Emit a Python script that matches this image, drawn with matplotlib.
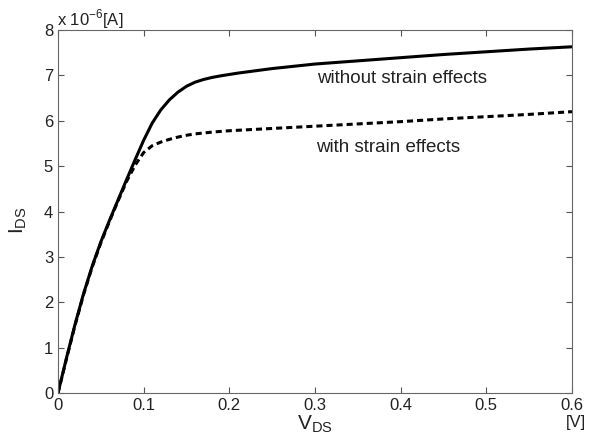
import numpy as np
import matplotlib.pyplot as plt

plt.rcParams['font.family'] = ['Liberation Sans', 'DejaVu Sans']
plt.rcParams['mathtext.fontset'] = 'custom'
plt.rcParams['mathtext.rm'] = 'Liberation Sans'

# V_DS [V] and I_DS [x 1e-6 A]
vds_no_strain = [0, 0.01, 0.02, 0.03, 0.04, 0.05, 0.06, 0.07, 0.08, 0.09, 0.1,
                 0.11, 0.12, 0.13, 0.14, 0.15, 0.16, 0.17, 0.18, 0.19, 0.2, 0.21,
                 0.25, 0.3, 0.35, 0.4, 0.45, 0.5, 0.55, 0.6]
ids_no_strain = [0, 0.78, 1.52, 2.20, 2.80, 3.33, 3.80, 4.25, 4.70, 5.14, 5.57,
                 5.95, 6.24, 6.46, 6.63, 6.76, 6.85, 6.91, 6.955, 6.99, 7.02, 7.05,
                 7.15, 7.25, 7.32, 7.39, 7.46, 7.52, 7.58, 7.63]

vds_strain = [0, 0.01, 0.02, 0.03, 0.04, 0.05, 0.06, 0.07, 0.08, 0.09, 0.1,
              0.11, 0.12, 0.13, 0.14, 0.15, 0.16, 0.17, 0.18, 0.2, 0.25, 0.3,
              0.35, 0.4, 0.45, 0.5, 0.55, 0.6]
ids_strain = [0, 0.76, 1.50, 2.18, 2.78, 3.31, 3.78, 4.23, 4.66, 5.02, 5.30,
              5.45, 5.53, 5.59, 5.64, 5.68, 5.71, 5.73, 5.75, 5.78, 5.83, 5.88,
              5.93, 5.98, 6.04, 6.09, 6.14, 6.2]

xticks = [0, 0.1, 0.2, 0.3, 0.4, 0.5, 0.6]
xticklabels = ['0', '0.1', '0.2', '0.3', '0.4', '0.5', '0.6']
yticks = [0, 1, 2, 3, 4, 5, 6, 7, 8]

fig = plt.figure(figsize=(6.08, 4.41), dpi=100)
ax = fig.add_axes([58 / 608, 48 / 441, 514 / 608, 363 / 441])

ax.plot(vds_no_strain, ids_no_strain, color='black', linewidth=2.2,
        solid_joinstyle='round')
ax.plot(vds_strain, ids_strain, color='black', linewidth=2.2, linestyle=(0, (2.0, 1.3)))

ax.set_xlim(0, 0.6)
ax.set_ylim(0, 8)
ax.set_xticks(xticks)
ax.set_xticklabels(xticklabels)
ax.set_yticks(yticks)
ax.tick_params(direction='in', top=True, right=True, labelsize=12, length=4,
               width=0.8, colors='#555555', labelcolor='#222222', pad=3.5)
for s in ax.spines.values():
    s.set_linewidth(0.8)
    s.set_color('#666666')

ax.text(0.402, 6.93, 'without strain effects', fontsize=13.5, ha='center', va='center',
        color='#222222')
ax.text(0.385, 5.40, 'with strain effects', fontsize=13.5, ha='center', va='center',
        color='#222222')

fig.text(315 / 608, 11 / 441, r'$\mathregular{V_{DS}}$', fontsize=15, ha='center',
         va='baseline', color='#222222')
fig.text(576 / 608, 19 / 441, '[V]', fontsize=12, ha='center', va='center', color='#222222')
fig.text(18 / 608, 221 / 441, r'$\mathregular{I_{DS}}$', fontsize=15, rotation=90,
         ha='center', va='center', color='#222222')
fig.text(57 / 608, 416 / 441, r'x 10$^{\mathregular{-6}}$[A]', fontsize=12, ha='left',
         va='baseline', color='#222222')

fig.savefig('out.png', dpi=100)
